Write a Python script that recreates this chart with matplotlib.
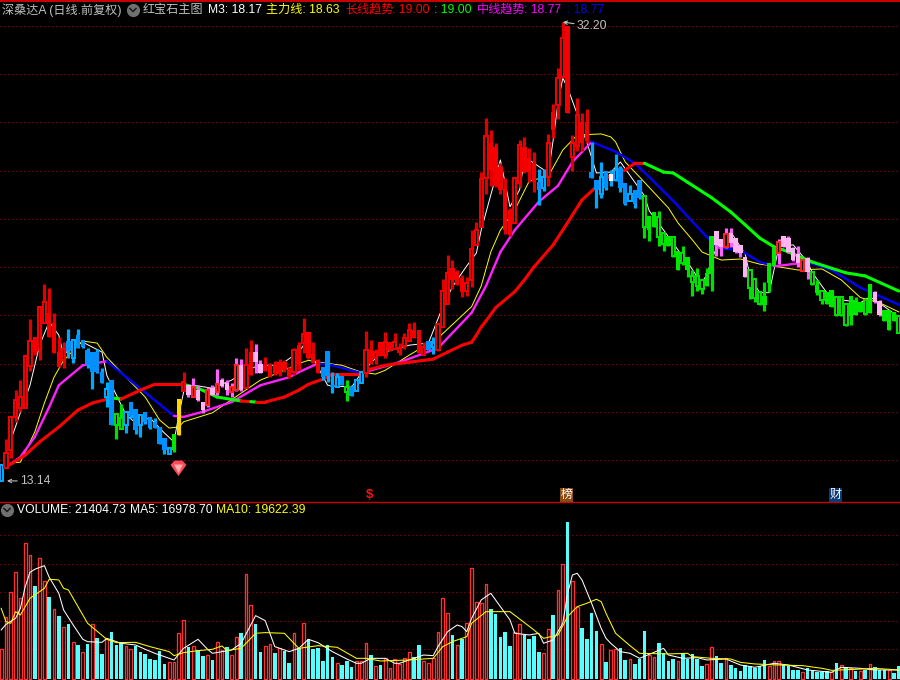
import matplotlib
matplotlib.use("Agg")
import matplotlib.pyplot as plt
from matplotlib.patches import Rectangle
from matplotlib.collections import LineCollection

plt.rcParams['font.family'] = ['Liberation Sans', 'Noto Sans CJK SC', 'DejaVu Sans']

high = [13.56,14.26,14.89,15.69,16.00,16.76,18.03,17.40,18.47,19.29,
        19.17,18.25,17.40,17.23,17.68,17.30,17.68,17.30,17.03,16.90,
        17.00,16.37,15.94,16.00,14.98,15.27,15.04,15.33,15.12,14.95,
        15.04,14.89,14.86,14.60,14.29,14.01,14.40,15.42,16.25,15.84,
        16.06,15.84,15.33,15.78,15.84,16.34,16.06,16.00,15.91,16.70,
        16.67,17.03,17.30,17.17,16.63,16.73,16.53,16.60,16.67,16.63,
        16.41,17.03,17.23,18.07,17.58,17.23,16.67,16.41,16.93,16.25,
        16.22,16.12,16.00,15.84,16.03,16.25,17.61,17.30,17.00,17.23,
        17.58,17.23,17.54,17.20,17.54,17.89,17.93,17.65,17.23,17.27,
        17.40,17.86,19.50,20.43,20.23,19.84,19.65,19.57,21.45,21.80,
        24.02,26.70,26.08,25.43,24.46,23.74,22.40,23.74,25.58,25.73,
        25.18,24.98,24.17,24.17,25.88,27.44,29.44,32.20,31.96,25.83,
        27.77,26.96,27.18,25.48,23.65,24.50,24.07,24.12,24.88,24.31,
        23.50,23.41,23.20,23.65,22.94,22.05,22.22,22.27,21.37,21.21,
        21.21,20.59,20.80,20.35,19.84,19.92,19.50,19.92,21.21,21.41,
        21.08,21.54,21.54,21.12,20.84,20.35,19.84,19.50,19.00,19.38,
        20.11,20.75,21.08,21.21,21.21,20.76,20.80,20.23,20.35,19.76,
        19.46,19.08,19.00,19.08,18.83,18.83,18.58,18.87,18.83,18.65,
        18.76,19.31,19.04,18.72,18.36,18.36,18.28,18.14]
low = [13.14,13.48,13.74,14.75,15.04,15.15,16.28,16.80,16.63,17.89,
       17.40,16.86,16.41,16.37,16.70,16.53,17.03,17.03,16.37,15.72,
       16.22,15.91,15.18,14.66,14.26,14.55,14.43,14.86,14.40,14.32,
       14.69,14.55,14.57,14.12,13.85,13.85,13.90,14.37,15.66,15.48,
       15.48,15.36,15.01,15.18,15.54,15.54,15.78,15.54,15.48,15.66,
       15.66,15.75,16.15,16.22,16.22,16.28,16.09,16.15,16.12,16.25,
       16.06,16.15,16.31,16.86,16.67,16.53,16.22,16.00,15.94,15.60,
       15.78,15.84,15.36,15.51,15.66,15.91,16.09,16.50,16.50,16.76,
       16.70,16.93,17.00,16.80,17.00,17.27,17.37,16.86,16.80,16.96,
       16.83,16.93,17.75,18.58,19.12,19.27,18.83,18.87,19.20,20.83,
       21.58,23.02,23.39,23.35,23.02,21.29,21.20,21.73,23.35,23.98,
       23.55,23.11,22.53,23.15,23.39,25.68,26.65,28.87,26.96,24.07,
       25.03,25.03,25.43,23.74,22.40,22.85,23.20,23.39,23.60,23.11,
       22.53,22.71,22.40,22.80,21.12,21.00,21.58,20.80,20.59,20.80,
       20.35,19.84,20.03,19.57,18.87,19.04,18.93,19.23,19.04,20.39,
       20.39,20.71,20.75,20.51,20.35,19.57,18.76,18.65,18.54,18.32,
       19.00,20.00,20.07,20.76,20.51,20.19,19.96,19.80,19.50,19.27,
       18.91,18.58,18.58,18.47,18.14,18.14,17.79,17.82,18.17,18.28,
       18.17,18.25,18.61,18.14,17.96,17.65,17.96,17.54]
body_top = [13.56,13.87,14.89,15.39,15.48,16.76,17.27,17.40,18.47,18.65,
            18.25,17.89,16.90,17.00,17.27,17.30,17.47,17.30,16.96,16.90,
            16.90,16.25,15.72,16.00,14.98,14.86,15.04,15.33,15.12,14.95,
            15.04,14.89,14.75,14.60,14.29,14.01,14.40,15.42,15.94,15.84,
            15.78,15.69,15.33,15.69,15.75,15.87,16.00,15.91,15.78,16.47,
            16.47,16.47,16.90,16.90,16.50,16.47,16.47,16.47,16.57,16.57,
            16.31,16.96,17.13,17.51,17.58,16.83,16.63,16.41,16.93,15.84,
            16.09,16.12,15.78,15.78,16.00,16.25,16.96,16.96,16.90,17.23,
            17.23,17.23,17.23,17.03,17.37,17.65,17.65,17.65,17.06,17.27,
            17.20,17.86,19.04,19.73,19.92,19.76,19.53,19.35,20.67,21.45,
            23.69,25.78,25.43,25.23,24.26,23.25,22.31,23.74,25.33,25.23,
            24.70,24.46,23.55,23.79,25.43,27.01,28.87,31.21,31.96,25.43,
            26.86,26.49,26.49,24.02,23.65,23.79,24.07,23.93,24.12,24.21,
            23.50,23.02,23.20,23.65,22.94,22.05,22.22,22.02,21.33,21.21,
            21.17,20.59,20.51,20.35,19.61,19.61,19.46,19.73,21.21,21.41,
            21.08,21.28,21.33,21.12,20.84,20.35,19.84,19.50,19.00,18.87,
            20.11,20.75,20.96,21.21,21.12,20.72,20.47,20.23,20.31,19.76,
            19.27,19.04,19.00,19.08,18.83,18.83,18.58,18.87,18.72,18.65,
            18.72,19.31,19.00,18.69,18.36,18.36,18.28,18.14]
body_bottom = [13.14,13.48,13.96,14.89,15.15,15.15,16.44,16.90,16.96,17.89,
               17.40,16.86,16.41,16.63,16.93,16.70,17.03,17.06,16.47,16.25,
               16.25,15.91,15.48,14.66,14.66,14.55,14.66,14.92,14.52,14.66,
               14.75,14.57,14.57,14.12,13.96,13.85,13.96,14.37,15.66,15.54,
               15.48,15.39,15.09,15.24,15.54,15.63,15.81,15.69,15.63,15.69,
               15.69,15.75,16.15,16.57,16.22,16.28,16.09,16.22,16.19,16.31,
               16.12,16.25,16.47,17.20,16.70,16.53,16.22,16.09,16.12,15.78,
               15.78,15.84,15.63,15.51,15.66,15.91,16.22,16.50,16.70,16.76,
               16.80,16.93,17.00,16.90,17.10,17.27,17.37,16.86,16.80,16.96,
               17.06,16.96,17.75,18.58,19.46,19.27,19.02,19.04,19.46,20.83,
               21.58,23.74,24.12,23.39,23.20,21.45,21.25,21.73,23.53,24.02,
               24.02,23.55,23.20,23.30,23.79,26.08,27.39,28.93,26.96,24.75,
               25.28,25.43,25.58,23.74,23.20,23.02,23.30,23.60,23.65,23.30,
               22.58,22.71,22.58,22.85,21.58,21.45,21.58,21.17,20.88,20.80,
               20.39,19.84,20.11,19.84,19.38,19.23,19.12,19.23,19.69,20.84,
               20.76,20.75,20.92,20.55,20.51,19.57,19.16,18.80,18.58,18.54,
               19.34,20.00,20.51,20.76,20.55,20.23,20.11,19.80,19.76,19.31,
               18.98,18.72,18.58,18.47,18.17,18.17,17.82,18.14,18.17,18.28,
               18.21,18.25,18.65,18.17,17.96,17.65,17.96,17.54]
candle_style = ("BRRRRRRrRR" "rrrRbBbbbb" "bbBbGGBbbB" "bbbbbBgyRp" "QppQpQppQQ"
                "pRrpprrrrr" "rRrRrrrbbb" "BbGbBBRrRr" "RrRRRRrrRb" "BRRRrrrRRR"
                "RRrrrrrRRr" "rrbBRrRRrR" "RrrbbBbwBb" "bBbbGggGGg" "GgGgGGGggp"
                "pQppppGGGg" "ggQppppQpG" "gGggGGGggg" "GgppgggG")

volume = [49.0,101.8,143.0,176.0,133.1,223.9,204.1,153.5,199.1,161.2,
          135.3,115.0,104.0,85.3,90.8,60.5,56.1,44.0,57.8,90.2,
          67.7,41.3,65.5,77.6,56.7,58.9,53.9,49.0,55.0,44.6,
          41.3,33.0,31.4,45.7,24.8,27.5,27.5,75.4,96.8,52.8,
          53.9,47.9,38.0,39.6,31.4,60.5,47.9,52.3,39.6,68.8,
          75.9,172.7,122.1,90.8,44.6,53.9,57.2,42.9,50.6,46.2,
          26.4,75.4,51.2,91.9,65.5,49.5,51.2,29.7,56.1,36.3,
          25.9,23.1,29.2,19.8,29.2,29.2,58.9,39.6,21.5,23.1,
          34.1,18.2,32.5,24.8,34.1,44.0,35.8,56.1,29.2,25.9,
          34.1,77.0,133.1,108.4,72.6,56.1,65.5,91.9,182.6,126.5,
          124.9,156.2,115.0,106.7,69.3,77.6,54.5,77.0,90.2,73.2,
          66.0,71.0,44.6,42.4,82.0,105.6,146.9,189.2,258.5,161.2,
          118.3,84.2,66.0,108.9,79.2,57.8,28.1,47.9,49.5,51.2,
          31.4,33.0,24.8,33.0,79.2,40.2,36.3,59.4,42.4,29.7,
          33.0,29.7,42.4,33.0,41.3,33.0,21.5,24.8,52.8,38.0,
          26.4,34.7,23.1,18.2,13.2,23.1,20.9,18.2,21.5,31.4,
          21.5,29.2,29.2,23.1,21.5,14.9,14.9,11.6,18.2,13.2,
          12.1,12.1,13.2,11.6,26.4,22.6,19.8,18.2,13.2,13.2,
          14.9,24.8,19.8,14.9,14.9,14.9,9.9,21.5]
volume_dir = ("UUUUUUUDUU" "DUDUDUDUDU" "DDUDDDUUDD" "DDDDDUUUUD" "UDDUDUUDUU"
              "DUUDDUUDUD" "DUDUDDDDDD" "UDDDUUUDUD" "UUUUUUDDUU" "UUUUDUDUUU"
              "UUDDDDDUUD" "DDDUUDUUDU" "UDDDDUDUUD" "DUDDDUUDDD" "DUDDDDDUUD"
              "DUDDDDDDDD" "UUUDDDDUDD" "DDDUDUDUDU" "DUDDDUDD")

m3_days = [0,2,6,8,10,12,13,15,17,21,22,24,26,28,31,34,36,37,38,40,44,48,52,54,58,62,63,65,66,68,73,75,79,85,89,92,94,97,99,100,
           104,106,108,109,110,114,115,116,117,118,120,121,122,124,127,129,134,135,138,141,143,145,146,147,148,149,152,155,156,158,160,161,162,165,168,169,172,175,179,181,184,187]
m3_vals = [13.37,14.23,15.84,17.13,17.93,17.47,16.80,17.13,17.23,16.90,16.15,15.54,14.95,14.72,14.86,14.43,14.18,14.95,15.63,15.84,15.75,16.00,16.37,16.47,16.47,16.90,17.13,16.70,16.41,15.84,15.78,16.22,16.86,17.13,17.20,18.47,19.20,20.00,20.51,21.45,
           24.60,22.45,23.20,24.60,24.60,23.98,25.58,27.50,28.87,28.32,26.91,26.08,25.48,23.98,24.02,24.50,22.94,22.27,21.45,20.63,20.15,19.57,19.38,19.65,20.23,20.71,21.37,20.47,19.61,18.98,18.98,19.84,20.76,20.84,20.15,19.73,18.98,18.72,18.61,18.83,18.47,18.10]

main_days = [2,4,7,9,11,13,17,20,22,26,30,33,35,37,38,44,50,54,59,62,64,68,71,75,78,80,85,91,98,100,102,104,107,110,114,117,120,125,127,128,130,133,137,139,141,144,146,150,154,158,162,166,171,175,179,183,187]
main_vals = [13.61,13.63,14.46,15.30,16.09,16.63,17.27,17.20,16.73,16.09,15.48,14.80,14.57,14.60,14.75,15.01,15.60,16.00,16.31,16.53,16.63,16.53,16.47,16.25,16.19,16.31,16.80,17.37,18.47,19.23,20.55,21.45,22.31,23.60,23.84,25.08,25.83,25.88,25.73,25.48,24.50,23.79,22.85,22.40,21.75,21.04,20.55,20.23,20.27,20.07,19.96,19.84,19.88,19.46,18.80,18.61,18.28]

mid_days = [1,4,7,10,12,17,22,36,38,42,48,54,60,62,66,69,75,83,91,98,101,104,107,112,116,119,123,128,132,135,140,146,149,150,154,158,161,162,168,173,179,187]
mid_vals = [13.50,13.77,14.32,15.18,15.84,16.47,16.60,14.92,14.89,15.04,15.33,15.84,16.09,16.25,16.53,16.47,16.22,16.57,17.03,18.25,19.23,20.55,21.45,22.67,23.39,24.50,25.48,25.00,24.44,23.79,22.71,21.37,20.76,20.70,20.63,20.15,20.00,20.00,20.15,19.84,19.17,18.54]
mid_state = "mmmmmmbmmmmmmmbbmmmmmmmmmmbbbbbbmbbbmmbbb"

long_days = [1,5,8,12,16,19,23,25,29,32,38,41,45,50,52,53,55,59,62,64,67,69,75,76,80,85,90,93,96,98,99,100,101,103,107,109,111,115,117,121,124,127,130,132,134,138,140,143,148,152,155,158,161,163,169,176,180,187]
long_vals = [13.50,13.82,14.18,14.60,15.09,15.30,15.45,15.42,15.69,15.87,15.87,15.75,15.48,15.36,15.34,15.33,15.33,15.48,15.69,15.87,16.03,16.19,16.19,16.31,16.47,16.57,16.67,16.90,17.13,17.23,17.47,17.75,17.96,18.43,19.02,19.46,19.96,20.84,21.45,22.75,23.35,23.89,24.12,24.44,24.44,24.02,23.98,23.55,22.85,22.22,21.67,21.12,20.76,20.63,20.15,19.73,19.61,19.04]
long_state = "rrrrrrgrrrgggrgrrrrrrrrrrrrrrrrrrrrrrrrrrrrrggggggggggggg"

ma5_days = [0,1,3,4,5,6,7,9,10,12,13,15,17,18,21,22,25,28,30,32,36,38,41,43,44,46,48,50,53,55,57,60,62,64,66,69,72,74,75,77,80,82,83,86,88,90,91,93,95,96,97,98,100,102,104,106,107,110,112,113,115,117,118,119,120,121,123,125,126,127,129,131,133,135,138,139,142,145,147,151,154,157,161,164,168,173,175,179,182,187]
ma5_vals = [80.9,90.2,100.1,116.6,152.4,176.0,181.0,187.0,167.8,141.4,113.9,89.1,65.5,61.6,60.5,67.1,58.9,56.1,49.0,42.4,31.4,50.6,65.5,49.0,42.4,45.1,47.9,58.9,104.5,96.3,53.4,45.1,50.6,65.5,60.0,45.1,33.0,25.9,25.9,34.1,34.1,25.9,25.9,34.1,39.6,38.5,53.4,78.1,89.1,86.4,78.1,100.1,130.4,141.4,119.4,97.4,75.4,72.6,75.4,58.9,64.4,91.9,141.4,171.6,174.4,163.4,124.9,83.6,67.1,58.9,45.1,42.4,34.1,40.7,50.6,39.6,34.1,35.2,31.4,33.0,23.1,19.3,25.9,23.1,14.9,11.0,19.3,17.6,14.9,14.9]

ma10_days = [0,1,2,3,4,6,9,10,12,13,14,18,22,24,28,31,35,36,38,41,44,46,47,50,53,55,59,62,66,70,74,76,79,85,90,92,94,97,98,101,106,111,113,116,118,120,122,124,125,126,128,131,133,139,143,144,148,152,154,157,162,167,171,173,178,182,187]
ma10_vals = [116.6,94.6,91.9,111.1,105.6,133.1,149.6,164.5,163.4,149.6,146.9,91.9,65.5,60.0,60.5,53.4,45.1,38.5,43.5,46.8,49.0,54.5,46.8,50.6,75.4,76.5,75.4,50.6,55.0,52.3,34.1,34.1,29.7,31.4,34.1,53.4,61.6,69.9,91.9,111.1,111.1,80.9,67.1,72.6,102.9,119.4,124.9,131.5,127.6,108.4,75.4,55.0,42.4,41.3,42.4,36.9,34.1,33.0,27.5,24.8,23.1,22.0,17.6,14.3,16.0,17.6,14.9]

price_grid = [31.96,29.09,26.49,24.07,21.92,19.96,18.17,16.50,15.04,13.69]
volume_grid = [237.1,189.2,143.0,95.2,49.0]
price_high_label = "32.20"
price_low_label = "13.14"

BLACK = '#000000'
WICK = {'r': '#e00000', 'b': '#00a8ff', 'g': '#00e000', 'p': '#ff60ff', 'y': '#ffd000', 'w': '#00a8ff', 'q': '#ff60ff'}
FILL = {'r': '#f40000', 'b': '#0090ff', 'g': '#00e800', 'p': '#ffb4f4', 'y': '#ffd800', 'w': '#ffffff'}
EDGE = {'r': '#f00000', 'b': '#00a8ff', 'g': '#00e000', 'q': '#ff2020'}

fig = plt.figure(figsize=(9, 6.8), dpi=100, facecolor=BLACK)
ax = fig.add_axes([0, 178 / 680, 1, 502 / 680])
axv = fig.add_axes([0, 0, 1, 178 / 680])
over = fig.add_axes([0, 0, 1, 1], zorder=10)
for a in (ax, axv):
    a.set_facecolor(BLACK)
    a.set_xlim(-0.25, 187.25)
ax.set_yscale('log')
ax.set_ylim(12.61, 33.62)
axv.set_ylim(-1.65, 292)
ax.set_axis_off()
axv.set_axis_off()
over.set_xlim(0, 900)
over.set_ylim(680, 0)
over.set_axis_off()
over.patch.set_alpha(0)

for g in price_grid:
    ax.axhline(g, color='#d00000', lw=0.72, ls=(0, (1, 3)), zorder=1)
for g in volume_grid:
    axv.axhline(g, color='#d00000', lw=0.72, ls=(0, (1, 3)), zorder=1)

def colored(a, days, vals, state, palette, lw, z=2.5):
    segs = [[(days[k], vals[k]), (days[k + 1], vals[k + 1])] for k in range(len(days) - 1)]
    cols = [palette[state[k]] for k in range(len(segs))]
    a.add_collection(LineCollection(segs, colors=cols, linewidths=lw,
                                    capstyle='round', zorder=z))

ax.plot(m3_days, m3_vals, color='white', lw=0.7, zorder=2)
ax.plot(main_days, main_vals, color='#ffff00', lw=0.7, zorder=2)
colored(ax, mid_days, mid_vals, mid_state, {'m': '#ff20ff', 'b': '#0000ff'}, 1.7)
colored(ax, long_days, long_vals, long_state, {'r': '#ff0000', 'g': '#00ff00'}, 2.2)

for i, st in enumerate(candle_style):
    key = st.lower()
    wick_key = 'q' if st == 'Q' else key
    ax.vlines(i, low[i], high[i], color=WICK[wick_key], lw=2.3, zorder=3)
    h = body_top[i] - body_bottom[i]
    if st.isupper():
        ax.add_patch(Rectangle((i - 0.33, body_bottom[i]), 0.66, h, facecolor=BLACK,
                               edgecolor=EDGE[wick_key], lw=1.44, zorder=4))
    else:
        ax.add_patch(Rectangle((i - 0.46, body_bottom[i]), 0.92, h, facecolor=FILL[key],
                               edgecolor='none', zorder=4))

for i, (v, d) in enumerate(zip(volume, volume_dir)):
    if d == 'U':
        axv.add_patch(Rectangle((i - 0.30, 0), 0.60, v, facecolor=BLACK, edgecolor='#ff3030',
                                lw=0.95, zorder=2))
    else:
        axv.add_patch(Rectangle((i - 0.38, 0), 0.76, v, facecolor='#55ffff', edgecolor='none',
                                zorder=2))
axv.plot(ma5_days, ma5_vals, color='white', lw=0.75, zorder=3)
axv.plot(ma10_days, ma10_vals, color='#ffff00', lw=0.75, zorder=4)

over.plot([0, 900], [0.8, 0.8], color='#c80000', lw=1.5)
over.plot([0, 900], [502, 502], color='#c80000', lw=1.0)

FS = 8.7
def label(x, y, s, c, fs=FS, **kw):
    over.text(x, y, s, color=c, fontsize=fs, va='center', ha='left', **kw)

label(2, 10, '深桑达A (日线.前复权)', '#c0c0c0')
label(143, 10, '红宝石主图', '#c0c0c0')
label(208, 10, 'M3: 18.17', '#ffffff')
label(266, 10, '主力线: 18.63', '#ffff00')
label(345, 10, '长线趋势', '#ff0000')
label(392, 10, ': 19.00', '#ff0000')
label(434, 10, ': 19.00', '#00ff00')
label(477, 10, '中线趋势', '#ff00ff')
label(524, 10, ': 18.77', '#ff00ff')
label(567, 10, ': 18.77', '#0000ff')
label(17, 510, 'VOLUME: 21404.73', '#ffffff')
label(130, 510, 'MA5: 16978.70', '#ffffff')
label(216, 510, 'MA10: 19622.39', '#ffff00')

for cx, cy in ((133, 10), (7, 510)):
    over.scatter([cx], [cy], s=90, color='#707070', linewidths=0, zorder=5)
    over.plot([cx - 3, cx, cx + 3], [cy - 1.5, cy + 1.5, cy - 1.5], color='#1a1a1a', lw=1.1, zorder=6)

ax.annotate(price_low_label, xy=(1.2, 13.14), xytext=(13, 0), textcoords='offset pixels',
            color='#c0c0c0', fontsize=FS, va='center', ha='left',
            arrowprops=dict(arrowstyle='->', color='#c0c0c0', lw=0.8, mutation_scale=6, shrinkA=0, shrinkB=0))
ax.annotate(price_high_label, xy=(117, 32.20), xytext=(14, -4), textcoords='offset pixels',
            color='#c0c0c0', fontsize=FS, va='center', ha='left',
            arrowprops=dict(arrowstyle='->', color='#c0c0c0', lw=0.8, mutation_scale=6, shrinkA=0, shrinkB=0))

gem = [(-1, 0.45), (-0.5, 1), (0.5, 1), (1, 0.45), (0, -0.95), (-1, 0.45)]
gem_in = [(-0.5, 0.45), (0.5, 0.45), (0, -0.5), (-0.5, 0.45)]
over.scatter([178], [468], marker=gem, s=130, color='#ff4a5a', linewidths=0, zorder=5)
over.scatter([178], [467.5], marker=gem_in, s=40, color='#ffb0b0', linewidths=0, zorder=6)

over.text(369, 495.5, '$', color='#ff1010', fontsize=9.5, fontweight='bold', ha='center', va='center')
over.text(566.5, 495, '榜', color='#ffffff', fontsize=8.6, ha='center', va='center',
          bbox=dict(boxstyle='square,pad=0.08', fc='#8a4a10', ec='none'))
over.text(835.5, 495, '财', color='#ffffff', fontsize=8.6, ha='center', va='center',
          bbox=dict(boxstyle='square,pad=0.08', fc='#0a3a78', ec='none'))

fig.savefig('out.png', dpi=100, facecolor=BLACK)
